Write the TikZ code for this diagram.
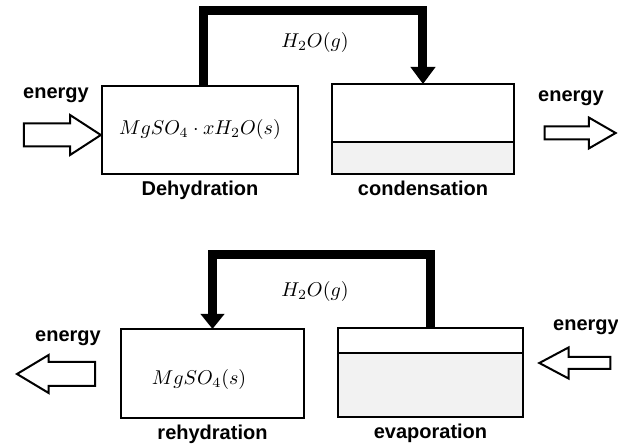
\documentclass[tikz,border=0pt]{standalone}
\usepackage{fontspec}
\setsansfont{Liberation Sans}
\usetikzlibrary{positioning,shapes.arrows,arrows.meta,backgrounds}
\tikzset{
  box/.style={draw,line width=1.2pt,inner sep=0pt,outer sep=0pt},
  water/.style={fill=black!5},
  pipe/.style={line width=4.5pt,line cap=butt},
  word/.style={font=\sffamily\bfseries\fontsize{10}{12}\selectfont},
  heat/.style={single arrow,draw,fill=white,line width=1pt,inner xsep=0pt,outer sep=0pt}
}
\begin{document}
\begin{tikzpicture}[x=0.5pt,y=-0.5pt,line join=miter]
\useasboundingbox (0,0) rectangle (618,444);
\node[box,minimum width=98pt,minimum height=44pt] (dehy) at (200,130) {$MgSO_4\cdot xH_2O(s)$};
\node[box,minimum width=91pt,minimum height=45pt] (cond) at (423,129) {};
\node[box,minimum width=91.5pt,minimum height=44.5pt] (rehy) at (212.5,373.5) {};
\node[box,minimum width=92.5pt,minimum height=44.5pt] (evap) at (430.5,372.5) {};
\node (mgs) at (199,380) {$MgSO_4(s)$};
\coordinate (lvl1) at (0,142);
\coordinate (lvl2) at (0,353);
\begin{scope}[on background layer]
\fill[water] (cond.south west) rectangle (cond.east |- lvl1);
\fill[water] (evap.south west) rectangle (evap.east |- lvl2);
\end{scope}
\draw[line width=1pt] (cond.west |- lvl1) -- (cond.east |- lvl1);
\draw[line width=1pt] (evap.west |- lvl2) -- (evap.east |- lvl2);
\coordinate (top1) at (315,11);
\coordinate (top2) at (315,255);
\draw[pipe,-{Triangle[width=12pt,length=8.5pt]}] ([xshift=2pt]dehy.north) |- (top1) -| (cond.north);
\draw[pipe,-{Triangle[width=11.5pt,length=7.5pt]}] (evap.north) |- (top2) -| (rehy.north);
\node (gas1) at (315,43) {$H_2O(g)$};
\node (gas2) at (315,292) {$H_2O(g)$};
\node[word,below=0pt of dehy] (dehyl) {Dehydration};
\node[word,below=0pt of cond] (condl) {condensation};
\node[word,below=0pt of rehy] (rehyl) {rehydration};
\node[word,below=0pt of evap] (evapl) {evaporation};
\node[word] (e1) at (56,95) {energy};
\node[word] (e2) at (571,98) {energy};
\node[word] (e3) at (68,338) {energy};
\node[word] (e4) at (586,327) {energy};
\node[heat,minimum height=38.5pt,minimum width=19pt,inner ysep=5.25pt,single arrow head extend=4.25pt,single arrow tip angle=66] (in1) at (53.5,135) {};
\node[heat,minimum height=35.5pt,minimum width=14.5pt,inner ysep=2.75pt,single arrow head extend=4.5pt,single arrow tip angle=60] (out1) at (574.5,133) {};
\node[heat,shape border rotate=180,minimum height=39pt,minimum width=18pt,inner ysep=5.5pt,single arrow head extend=3.5pt,single arrow tip angle=62] (out2) at (66,374) {};
\node[heat,shape border rotate=180,minimum height=35.5pt,minimum width=14.5pt,inner ysep=2.5pt,single arrow head extend=4.75pt,single arrow tip angle=56] (in2) at (580.5,363) {};
\end{tikzpicture}
\end{document}
